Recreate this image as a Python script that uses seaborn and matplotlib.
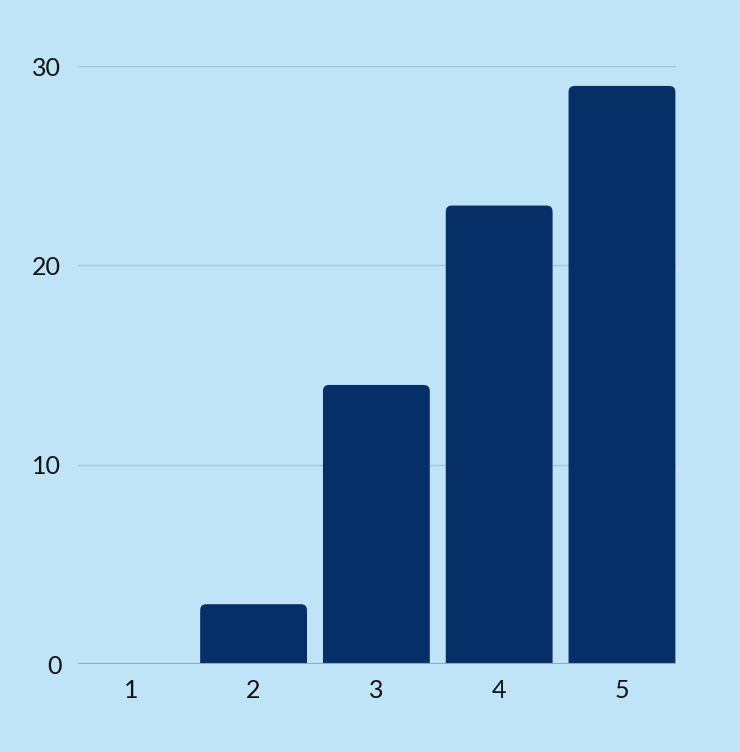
import matplotlib
matplotlib.use("Agg")
import matplotlib.pyplot as plt
import seaborn as sns
import pandas as pd
from matplotlib.patches import FancyBboxPatch

# chart data
categories = ["1", "2", "3", "4", "5"]
values = [0, 3, 14, 23, 29]
y_ticks = [0, 10, 20, 30]

bg = "#BFE3F7"
bar_color = "#052F66"

sns.set_theme(style="white")
plt.rcParams["font.family"] = ["Lato", "DejaVu Sans"]

df = pd.DataFrame({"cat": categories, "val": values})

fig = plt.figure(figsize=(7.4, 7.52), dpi=100, facecolor=bg)
ax = fig.add_axes([78 / 740, 88 / 752, 598 / 740, 598 / 752])
ax.set_facecolor(bg)

sns.barplot(data=df, x="cat", y="val", color=bar_color, width=0.87,
            saturation=1, ax=ax)

ax.set_xlim(-0.43, 4.44)
ax.set_ylim(0, 30)

# swap plain bars for ones with rounded top corners
rx = 0.05
ry = 0.3
for p in list(ax.patches):
    x0, w, h = p.get_x(), p.get_width(), p.get_height()
    p.remove()
    if h <= 0:
        continue
    fb = FancyBboxPatch((x0, -1), w, h + 1,
                        boxstyle=f"round,pad=0,rounding_size={rx}",
                        mutation_aspect=ry / rx,
                        facecolor=bar_color, edgecolor="none",
                        clip_on=True, zorder=3)
    ax.add_patch(fb)

ax.set_yticks(y_ticks)
ax.yaxis.grid(True, color="#A6C4DA", linewidth=1)
ax.set_axisbelow(True)
ax.axhline(0, color="#8FA8C0", linewidth=1.5, zorder=4)

for s in ax.spines.values():
    s.set_visible(False)

ax.tick_params(axis="both", length=0, labelsize=18, labelcolor="#111111")
ax.tick_params(axis="y", pad=12)
ax.tick_params(axis="x", pad=11)
ax.set_xlabel("")
ax.set_ylabel("")

fig.savefig("out.png", dpi=100, facecolor=bg)
